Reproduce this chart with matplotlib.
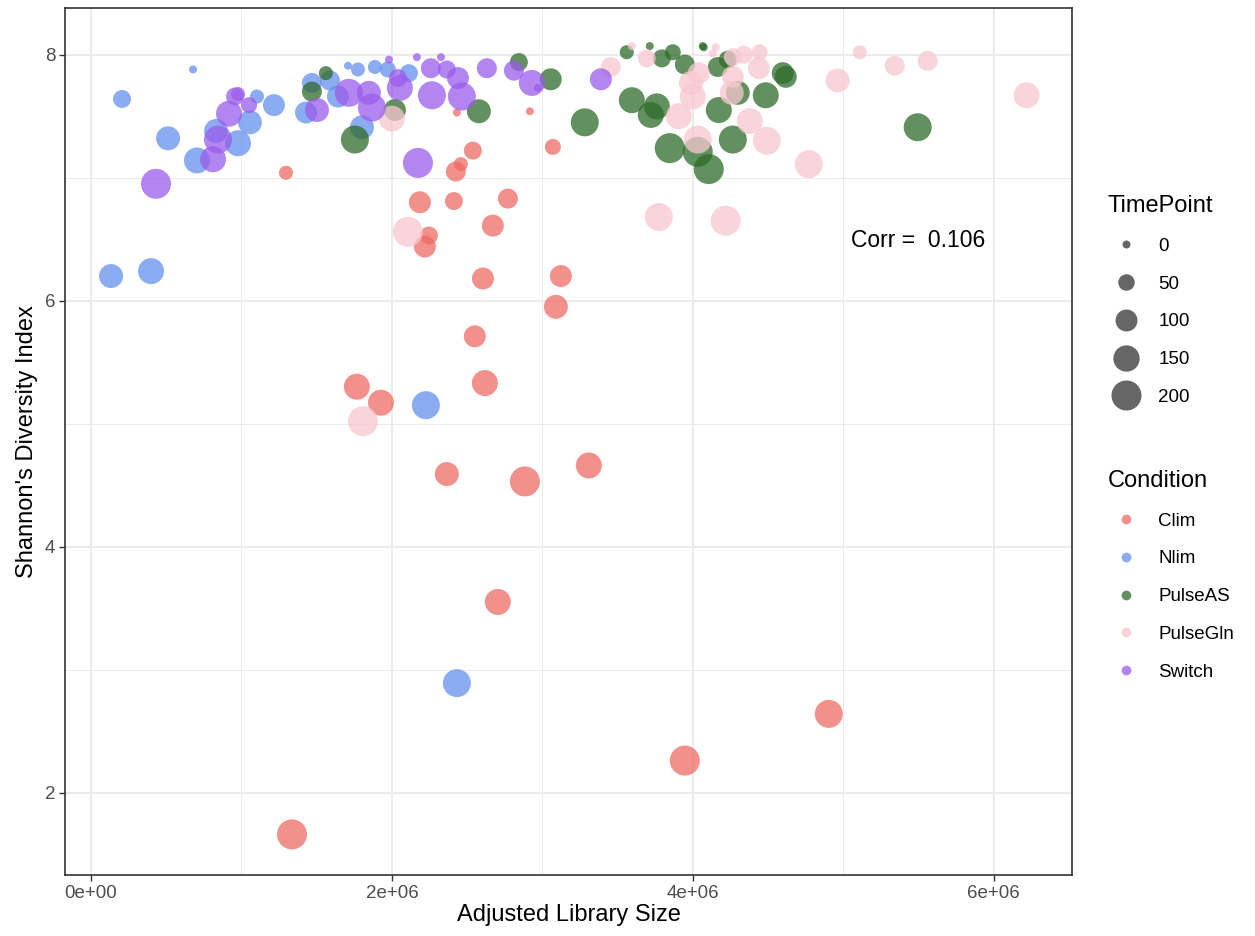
import matplotlib
matplotlib.use("Agg")
import matplotlib.pyplot as plt
from matplotlib.lines import Line2D
from matplotlib.ticker import MultipleLocator, FuncFormatter
import numpy as np

plt.rcParams['font.family'] = ['Liberation Sans', 'DejaVu Sans']

# library size in millions, Shannon index, TimePoint
clim_lib = [1.296, 2.432, 2.917, 3.070, 2.538, 2.458, 2.425, 2.186, 2.412, 2.771, 2.671, 2.246, 2.219,
            2.605, 3.123, 3.090, 2.551, 1.767, 1.927, 2.618, 2.365, 2.884, 3.309, 2.704, 4.904, 3.947, 1.336]
clim_div = [7.04, 7.53, 7.54, 7.25, 7.22, 7.11, 7.05, 6.80, 6.81, 6.83, 6.61, 6.53, 6.44,
            6.18, 6.20, 5.95, 5.71, 5.30, 5.17, 5.33, 4.59, 4.53, 4.66, 3.55, 2.64, 2.26, 1.66]
clim_tp = [32, 0, 0, 46, 62, 32, 80, 100, 62, 80, 100, 62, 100,
           100, 100, 122, 100, 146, 146, 146, 122, 200, 146, 146, 172, 200, 200]

nlim_lib = [0.206, 0.678, 0.512, 0.704, 0.831, 0.977, 1.056, 1.103, 1.216, 1.429, 1.468, 1.588,
            1.641, 1.801, 1.708, 1.774, 1.887, 1.973, 2.113, 0.133, 0.399, 2.226, 2.432]
nlim_div = [7.64, 7.88, 7.32, 7.14, 7.38, 7.28, 7.45, 7.66, 7.59, 7.53, 7.77, 7.79,
            7.66, 7.41, 7.91, 7.88, 7.90, 7.88, 7.85, 6.20, 6.24, 5.15, 2.89]
nlim_tp = [62, 0, 122, 146, 122, 146, 122, 32, 100, 100, 80, 80,
           100, 122, 0, 32, 32, 46, 62, 122, 146, 172, 172]

pas_lib = [1.468, 1.561, 1.754, 2.020, 2.578, 2.844, 3.056, 3.282, 3.561, 3.714, 3.794, 3.867,
           3.947, 4.066, 4.073, 3.595, 3.761, 3.721, 4.166, 4.233, 4.598, 4.618, 4.299, 4.173,
           4.485, 4.266, 3.847, 4.033, 4.106, 5.495]
pas_div = [7.70, 7.85, 7.31, 7.55, 7.54, 7.94, 7.80, 7.45, 8.02, 8.07, 7.97, 8.02,
           7.92, 8.07, 8.06, 7.63, 7.58, 7.51, 7.90, 7.96, 7.85, 7.82, 7.69, 7.55,
           7.67, 7.31, 7.24, 7.21, 7.07, 7.41]
pas_tp = [80, 32, 172, 100, 122, 62, 100, 172, 32, 0, 62, 46,
          80, 0, 0, 146, 146, 146, 80, 62, 100, 100, 122, 146,
          146, 172, 200, 200, 200, 172]

pgln_lib = [2.000, 2.106, 1.807, 3.455, 3.595, 3.694, 4.153, 4.133, 4.040, 3.987, 4.000, 3.907,
            4.266, 4.339, 4.445, 4.439, 4.266, 4.259, 4.379, 4.492, 4.033, 4.771, 4.963, 5.110,
            5.342, 5.561, 6.219, 3.774, 4.219]
pgln_div = [7.48, 6.56, 5.02, 7.90, 8.07, 7.97, 8.06, 8.01, 7.85, 7.77, 7.66, 7.50,
            7.98, 8.00, 8.02, 7.89, 7.82, 7.69, 7.46, 7.30, 7.31, 7.11, 7.79, 8.02,
            7.91, 7.95, 7.67, 6.68, 6.65]
pgln_tp = [146, 200, 200, 80, 0, 62, 0, 0, 100, 122, 146, 146,
           62, 62, 46, 100, 100, 122, 146, 172, 172, 172, 122, 32,
           80, 80, 146, 172, 200]

sw_lib = [0.432, 0.811, 0.844, 0.917, 0.957, 0.977, 1.050, 1.502, 1.714, 1.847, 1.867, 1.980,
          2.040, 2.053, 2.166, 2.173, 2.259, 2.266, 2.326, 2.365, 2.439, 2.465, 2.631, 2.811,
          2.930, 2.970, 3.389]
sw_div = [6.95, 7.15, 7.31, 7.52, 7.66, 7.68, 7.59, 7.55, 7.69, 7.69, 7.57, 7.96,
          7.81, 7.73, 7.98, 7.12, 7.89, 7.67, 7.98, 7.88, 7.81, 7.66, 7.89, 7.87,
          7.77, 7.73, 7.80]
sw_tp = [200, 146, 172, 146, 62, 32, 46, 122, 172, 122, 172, 0,
         62, 146, 0, 200, 80, 172, 0, 62, 100, 172, 80, 80,
         146, 0, 100]

conditions = ["Clim", "Nlim", "PulseAS", "PulseGln", "Switch"]
colors = ["#EE6B66", "#6690EE", "#2E6B2A", "#F8C8D0", "#9A5CEB"]
series = [(clim_lib, clim_div, clim_tp), (nlim_lib, nlim_div, nlim_tp),
          (pas_lib, pas_div, pas_tp), (pgln_lib, pgln_div, pgln_tp),
          (sw_lib, sw_div, sw_tp)]
size_breaks = [0, 50, 100, 150, 200]
corr_text = "Corr =  0.106"


def tp_to_size(t):
    # area-proportional size scale, like ggplot's scale_size
    return 33 + 434 * np.asarray(t, dtype=float) / 200


fig = plt.figure(figsize=(12.55, 9.36), dpi=100)
ax = fig.add_axes([0.0518, 0.0652, 0.8023, 0.9263])

for (lib, div, tp), col in zip(series, colors):
    ax.scatter(np.array(lib) * 1e6, div, s=tp_to_size(tp), color=col, alpha=0.75,
               edgecolors='none', zorder=3)

ax.text(5.495e6, 6.49, corr_text, ha='center', va='center', fontsize=16.5, color='black')

ax.set_xlim(-0.173e6, 6.52e6)
ax.set_ylim(1.33, 8.38)
ax.xaxis.set_major_locator(MultipleLocator(2e6))
ax.xaxis.set_minor_locator(MultipleLocator(1e6))
ax.yaxis.set_major_locator(MultipleLocator(2))
ax.yaxis.set_minor_locator(MultipleLocator(1))
ax.xaxis.set_major_formatter(FuncFormatter(lambda v, p: f"{int(round(v / 1e6))}e+0{6 if round(v) else 0}"))
ax.yaxis.set_major_formatter(FuncFormatter(lambda v, p: f"{v:g}"))
ax.grid(which='major', color='#EBEBEB', linewidth=1.4, zorder=0)
ax.grid(which='minor', color='#EBEBEB', linewidth=0.7, zorder=0)
ax.set_axisbelow(True)
ax.tick_params(which='major', length=4, color='#333333', labelsize=13.5, labelcolor='#4D4D4D',
               width=1, pad=3)
ax.tick_params(which='minor', length=0)
for sp in ax.spines.values():
    sp.set_color('#333333')
    sp.set_linewidth(1.2)
ax.set_xlabel("Adjusted Library Size", fontsize=17, labelpad=2)
ax.set_ylabel("Shannon's Diversity Index", fontsize=17, labelpad=5)

size_handles = [Line2D([], [], marker='o', linestyle='none', color='#333333', alpha=0.75,
                       markeredgewidth=0, markersize=np.sqrt(tp_to_size(b))) for b in size_breaks]
leg1 = fig.legend(size_handles, [str(b) for b in size_breaks], title="TimePoint",
                  loc='upper left', bbox_to_anchor=(0.8765, 0.7995), frameon=False,
                  fontsize=13.5, title_fontsize=17, labelspacing=1.1, handletextpad=0.7,
                  borderaxespad=0, alignment='left')

cond_handles = [Line2D([], [], marker='o', linestyle='none', color=c, alpha=0.75,
                       markeredgewidth=0, markersize=7) for c in colors]
leg2 = fig.legend(cond_handles, conditions, title="Condition",
                  loc='upper left', bbox_to_anchor=(0.8765, 0.506), frameon=False,
                  fontsize=13.5, title_fontsize=17, labelspacing=1.1, handletextpad=0.7,
                  borderaxespad=0, alignment='left')

fig.savefig("out.png", dpi=100)
